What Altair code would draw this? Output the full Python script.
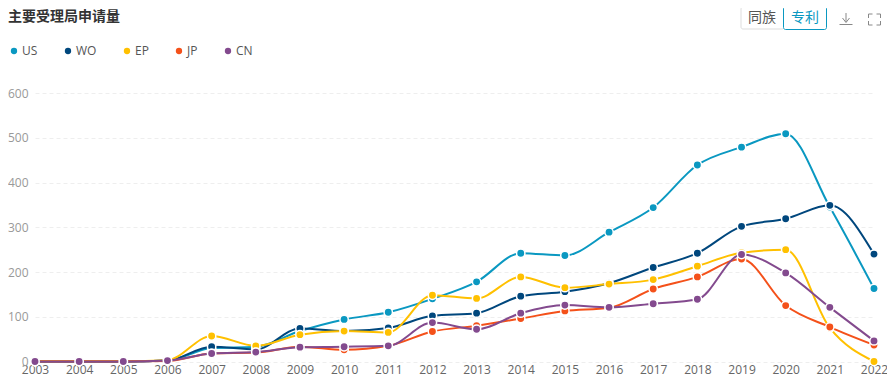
import altair as alt
import pandas as pd

years = [str(y) for y in range(2003, 2023)]
series_names = ["US", "WO", "EP", "JP", "CN"]
colors = ["#0a98c1", "#00477d", "#ffc000", "#f4511a", "#834a8e"]
us = [0, 0, 0, 2, 30, 33, 68, 94, 110, 140, 178, 242, 237, 289, 344, 439, 479, 509, 345, 163]
wo = [0, 0, 0, 2, 33, 27, 74, 68, 75, 102, 108, 146, 156, 175, 210, 242, 302, 319, 349, 240]
ep = [1, 1, 1, 3, 57, 35, 60, 68, 65, 148, 141, 189, 165, 173, 183, 213, 243, 250, 75, 0]
jp = [0, 0, 0, 1, 18, 20, 33, 26, 35, 67, 80, 96, 113, 120, 162, 189, 229, 125, 77, 37]
cn = [0, 0, 0, 2, 18, 21, 32, 33, 35, 87, 72, 108, 126, 121, 129, 139, 239, 198, 121, 46]
values = [us, wo, ep, jp, cn]

FONT = "Open Sans"
CJK = "Noto Sans CJK SC"

rows = []
for i, (n, vs) in enumerate(zip(series_names, values)):
    for y, v in zip(years, vs):
        rows.append({"year": y, "series": n, "value": v, "order": i})
df = pd.DataFrame(rows)

x = alt.X("year:O", title=None, scale=alt.Scale(type="point", padding=0),
          axis=alt.Axis(labelAngle=0, labelColor="#666", labelFontSize=12, labelFont=FONT,
                        domain=False, ticks=False, grid=False, labelPadding=3, labelOverlap=False))
y = alt.Y("value:Q", title=None, scale=alt.Scale(domain=[0, 600], nice=False),
          axis=alt.Axis(values=[0, 100, 200, 300, 400, 500, 600], labelColor="#999", labelFontSize=12,
                        labelFont=FONT, domain=False, ticks=False, grid=True, gridColor="#eeeeee",
                        gridDash=[4, 3], labelPadding=7))
color = alt.Color("series:N", scale=alt.Scale(domain=series_names, range=colors),
                  legend=alt.Legend(orient="none", legendX=-27, legendY=-48, direction="horizontal",
                                    title=None, symbolType="circle", symbolSize=40, symbolStrokeWidth=0,
                                    labelFont=FONT, labelFontSize=12, labelColor="#555",
                                    columnPadding=24, labelOffset=2, symbolOpacity=1))

layers = []
for i, n in enumerate(series_names):
    d = df[df.series == n]
    layers.append(alt.Chart(d).mark_line(interpolate="monotone", strokeWidth=2).encode(x=x, y=y, color=color))
    layers.append(alt.Chart(d).mark_point(filled=True, size=70, opacity=1, stroke="white", strokeWidth=1.5).encode(
        x=x, y=y, fill=alt.Fill("series:N", scale=alt.Scale(domain=series_names, range=colors), legend=None)))

def txt(label, px, py, size, col, weight="normal", align="left"):
    return alt.Chart(pd.DataFrame({"t": [label]})).mark_text(
        text=label, font=CJK, fontSize=size, color=col, fontWeight=weight, align=align, baseline="middle"
    ).encode(x=alt.value(px), y=alt.value(py))

def box(x1, x2, y1, y2, stroke, fill="white", sw=1):
    return alt.Chart(pd.DataFrame({"a": [0]})).mark_rect(stroke=stroke, fill=fill, strokeWidth=sw, cornerRadius=2).encode(
        x=alt.value(x1), x2=alt.value(x2), y=alt.value(y1), y2=alt.value(y2))

def rule(x1, x2, y1, y2, col="#888", sw=1):
    return alt.Chart(pd.DataFrame({"a": [0]})).mark_rule(color=col, strokeWidth=sw).encode(
        x=alt.value(x1), x2=alt.value(x2), y=alt.value(y1), y2=alt.value(y2))

def X(v): return v - 35
def Y(v): return v - 93

chrome = [
    txt("主要受理局申请量", X(8), Y(17), 14, "#333", "bold"),
    box(X(741), X(784), Y(7), Y(29), "#dddddd"),
    box(X(783.5), X(826.5), Y(6.5), Y(29.5), "#0a98c1"),
    txt("同族", X(748), Y(18), 14, "#555"),
    txt("专利", X(791), Y(18), 14, "#0a98c1"),
    # download icon
    rule(X(846), X(846), Y(13), Y(22)),
    rule(X(842.5), X(846), Y(18), Y(22.5)),
    rule(X(849.5), X(846), Y(18), Y(22.5)),
    rule(X(839.5), X(852.5), Y(24.5), Y(24.5)),
    # fullscreen icon
    rule(X(868.5), X(872.5), Y(14), Y(14)), rule(X(868.5), X(868.5), Y(14), Y(18)),
    rule(X(876.5), X(880.5), Y(14), Y(14)), rule(X(880.5), X(880.5), Y(14), Y(18)),
    rule(X(868.5), X(872.5), Y(25), Y(25)), rule(X(868.5), X(868.5), Y(21), Y(25)),
    rule(X(876.5), X(880.5), Y(25), Y(25)), rule(X(880.5), X(880.5), Y(21), Y(25)),
]

chart = alt.layer(*layers, *chrome).resolve_scale(color="shared", fill="shared").properties(
    width=839, height=268.5, background="white",
    padding={"left": 27, "top": 85, "right": 13, "bottom": 19},
    autosize=alt.AutoSizeParams(type="none", contains="content"),
).configure_view(stroke=None)

chart.save("out.html", embed_options={"renderer": "svg", "actions": False})
